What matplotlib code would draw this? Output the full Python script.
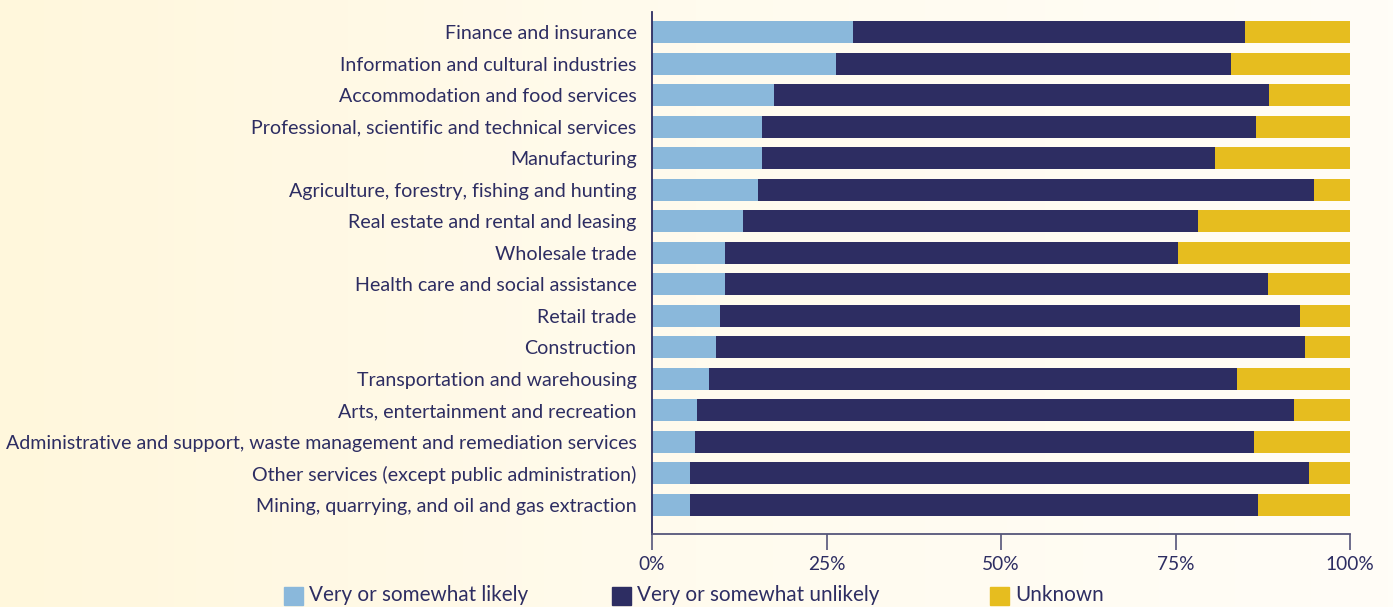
import numpy as np
import matplotlib
matplotlib.use("Agg")
import matplotlib.pyplot as plt
from matplotlib.colors import LinearSegmentedColormap
from matplotlib.patches import Rectangle

plt.rcParams["font.family"] = ["Lato", "DejaVu Sans"]

INDUSTRIES = [
    "Finance and insurance",
    "Information and cultural industries",
    "Accommodation and food services",
    "Professional, scientific and technical services",
    "Manufacturing",
    "Agriculture, forestry, fishing and hunting",
    "Real estate and rental and leasing",
    "Wholesale trade",
    "Health care and social assistance",
    "Retail trade",
    "Construction",
    "Transportation and warehousing",
    "Arts, entertainment and recreation",
    "Administrative and support, waste management and remediation services",
    "Other services (except public administration)",
    "Mining, quarrying, and oil and gas extraction",
]
LIKELY   = [28.8, 26.3, 17.5, 15.7, 15.7, 15.2, 13.0, 10.5, 10.5, 9.8, 9.1, 8.2, 6.5, 6.2, 5.4, 5.4]
UNLIKELY = [56.1, 56.6, 70.9, 70.8, 64.9, 79.6, 65.2, 64.8, 77.7, 83.1, 84.4, 75.6, 85.5, 80.0, 88.7, 81.4]
UNKNOWN  = [100 - a - b for a, b in zip(LIKELY, UNLIKELY)]

SERIES = ["Very or somewhat likely", "Very or somewhat unlikely", "Unknown"]
COLORS = ["#8ab8db", "#2d2d62", "#e6bd1f"]
TEXT = "#2d2d62"
TICKS = [0, 25, 50, 75, 100]

W, H = 1393, 607
fig = plt.figure(figsize=(W / 100, H / 100), dpi=100)

# background gradient (cream on the left fading to near-white)
bg = fig.add_axes([0, 0, 1, 1], zorder=-10)
cmap = LinearSegmentedColormap.from_list("bg", ["#fff7dc", "#fffbee", "#fffdf7"])
bg.imshow(np.linspace(0, 1, 256).reshape(1, -1), aspect="auto", cmap=cmap,
          extent=[0, 1, 0, 1])
bg.axis("off")

ax = fig.add_axes([652 / W, 1 - 534 / H, 698 / W, 522 / H])
ax.patch.set_alpha(0)

y = np.arange(len(INDUSTRIES))
left = np.zeros(len(INDUSTRIES))
for name, vals, c in zip(SERIES, [LIKELY, UNLIKELY, UNKNOWN], COLORS):
    ax.barh(y, vals, left=left, height=0.70, color=c, label=name, linewidth=0)
    left += np.array(vals)

ax.set_xlim(0, 100)
ax.set_ylim(len(INDUSTRIES) - 1 + 0.92, -0.635)
ax.set_yticks(y)
ax.set_yticklabels(INDUSTRIES, fontsize=14.1, color=TEXT)
ax.tick_params(axis="y", length=0, pad=11)
ax.set_xticks(TICKS)
ax.set_xticklabels([f"{t}%" for t in TICKS], fontsize=13.8, color=TEXT)
ax.tick_params(axis="x", length=11.5, width=1.2, color="#55557a", pad=4)

for s in ["top", "right"]:
    ax.spines[s].set_visible(False)
ax.spines["left"].set_color(TEXT)
ax.spines["left"].set_linewidth(1.3)
ax.spines["bottom"].set_color("#55557a")
ax.spines["bottom"].set_linewidth(1.3)

# legend along the bottom edge
legend_x = [284, 612, 990]
for name, c, lx in zip(SERIES, COLORS, legend_x):
    fig.patches.append(Rectangle((lx / W, 1 - 605 / H), 19 / W, 18 / H,
                                 transform=fig.transFigure, color=c))
    fig.text((lx + 25) / W, 1 - 595 / H, name, fontsize=14.9, color=TEXT,
             va="center", ha="left")

fig.savefig("out.png", dpi=100)
